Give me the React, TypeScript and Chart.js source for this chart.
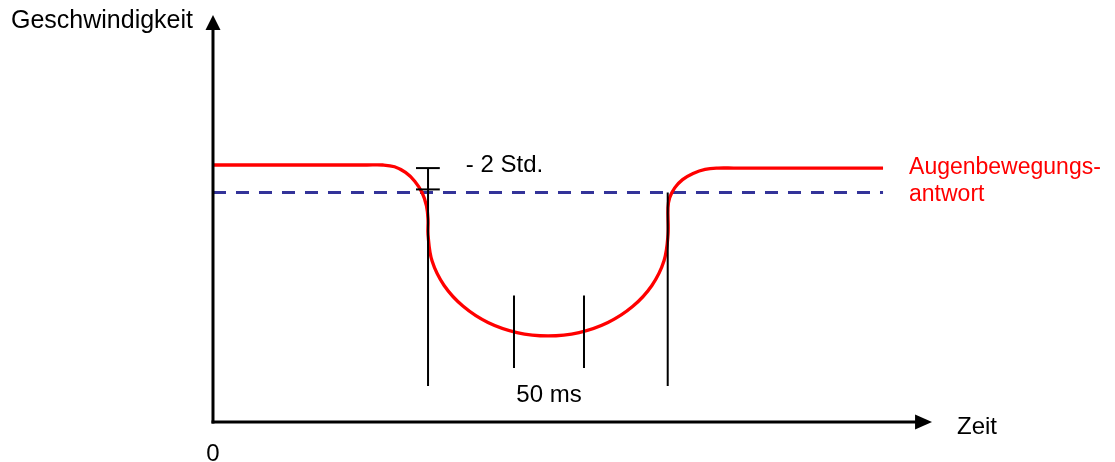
import React, { useEffect, useRef } from "react";
import { Chart, registerables } from "chart.js";

Chart.register(...registerables);

// Eye-movement response (time in ms, speed in arbitrary units)
const responseTimeMs = [
  0, 110, 121.4, 129.7, 137.5, 144.1, 149.3, 152.5, 153.6, 153.6, 156.5, 165.1, 178.7, 196.4,
  217.1, 239.3, 261.5, 282.1, 299.9, 313.5, 322.1, 325.0, 325.0, 326.2, 329.8, 335.4,
  342.9, 351.5, 360.7, 372, 478.6,
];
const responseSpeed = [
  10, 10, 10, 9.93, 9.71, 9.37, 8.93, 8.41, 7.86, 7.28, 6.26, 5.31, 4.5, 3.87,
  3.48, 3.35, 3.48, 3.87, 4.5, 5.31, 6.26, 7.28, 8.33, 8.73, 9.11, 9.43,
  9.67, 9.83, 9.88, 9.88, 9.88,
];

// Threshold (-2 Std.)
const thresholdTimeMs = [0, 478.6];
const thresholdSpeed = 8.93;

// Marker lines
const onsetMs = 153.6;
const offsetMs = 324.8;
const stdBarSpeed = [9.88, 9.05];
const stdBarTimeMs = [145, 162];
const markerBottomSpeed = 1.4;
const durationMarksMs = [215, 265];
const durationMarkSpeed = [4.92, 2.1];

// Axes
const axisEndMs = 513.6;
const axisEndSpeed = 15.84;
const timeRangeMs = [-152.14, 644.29];
const speedRange = [-1.556, 16.42];

const labels = {
  yTitle: "Geschwindigkeit",
  xTitle: "Zeit",
  origin: "0",
  std: "- 2 Std.",
  duration: "50 ms",
  series: ["Augenbewegungs-", "antwort"],
};

const FAMILY = '"Liberation Sans", Arial, sans-serif';

function seg(x1: number, y1: number, x2: number, y2: number) {
  return {
    data: [
      { x: x1, y: y1 },
      { x: x2, y: y2 },
    ],
    borderColor: "#000000",
    borderWidth: 2,
    pointRadius: 0,
    order: 0,
    tension: 0,
  };
}

const overlay = {
  id: "overlay",
  afterDatasetsDraw(chart: any) {
    const { ctx } = chart;
    const x = chart.scales.x;
    const y = chart.scales.y;
    const ox = x.getPixelForValue(0);
    const oy = y.getPixelForValue(0);
    const xt = x.getPixelForValue(axisEndMs);
    const yt = y.getPixelForValue(axisEndSpeed);
    ctx.save();
    ctx.strokeStyle = "#000";
    ctx.fillStyle = "#000";
    ctx.lineWidth = 3;
    ctx.beginPath();
    ctx.moveTo(ox, oy + 1.5);
    ctx.lineTo(ox, yt + 12);
    ctx.stroke();
    ctx.beginPath();
    ctx.moveTo(ox - 1.5, oy);
    ctx.lineTo(xt - 12, oy);
    ctx.stroke();
    // arrowheads
    ctx.beginPath();
    ctx.moveTo(ox, yt);
    ctx.lineTo(ox - 7.5, yt + 15);
    ctx.lineTo(ox + 7.5, yt + 15);
    ctx.closePath();
    ctx.fill();
    ctx.beginPath();
    ctx.moveTo(xt, oy);
    ctx.lineTo(xt - 17, oy - 7.5);
    ctx.lineTo(xt - 17, oy + 7.5);
    ctx.closePath();
    ctx.fill();

    ctx.textBaseline = "alphabetic";
    ctx.fillStyle = "#000";
    ctx.font = "25px " + FAMILY;
    ctx.textAlign = "right";
    ctx.fillText(labels.yTitle, ox - 20, yt + 13);
    ctx.font = "24px " + FAMILY;
    ctx.textAlign = "center";
    ctx.fillText(labels.origin, ox, oy + 39);
    ctx.textAlign = "left";
    ctx.fillText(labels.xTitle, xt + 25, oy + 12);
    ctx.fillText(labels.std, x.getPixelForValue(stdBarTimeMs[1]) + 26, y.getPixelForValue(stdBarSpeed[0]) + 4);
    ctx.textAlign = "center";
    ctx.fillText(
      labels.duration,
      x.getPixelForValue((durationMarksMs[0] + durationMarksMs[1]) / 2),
      y.getPixelForValue(markerBottomSpeed) + 16
    );
    ctx.textAlign = "left";
    ctx.fillStyle = "#ff0000";
    ctx.font = "23px " + FAMILY;
    const lx = x.getPixelForValue(thresholdTimeMs[1]) + 26;
    const ly = y.getPixelForValue(responseSpeed[responseSpeed.length - 1]);
    ctx.fillText(labels.series[0], lx, ly + 6);
    ctx.fillText(labels.series[1], lx, ly + 33);
    ctx.restore();
  },
};

export default function App() {
  const ref = useRef<HTMLCanvasElement>(null);
  useEffect(() => {
    if (!ref.current) return;
    const chart = new Chart(ref.current, {
      type: "line",
      data: {
        datasets: [
          {
            label: "Augenbewegungsantwort",
            data: responseTimeMs.map((t, i) => ({ x: t, y: responseSpeed[i] })),
            borderColor: "#ff0000",
            borderWidth: 3.3,
            pointRadius: 0,
            tension: 0.38,
            order: 1,
          } as any,
          {
            label: "-2 Std.",
            data: thresholdTimeMs.map((t) => ({ x: t, y: thresholdSpeed })),
            borderColor: "#333399",
            borderWidth: 3,
            borderDash: [13, 10],
            pointRadius: 0,
            order: 2,
          },
          seg(onsetMs, stdBarSpeed[0], onsetMs, markerBottomSpeed),
          seg(offsetMs, thresholdSpeed, offsetMs, markerBottomSpeed),
          seg(stdBarTimeMs[0], stdBarSpeed[0], stdBarTimeMs[1], stdBarSpeed[0]),
          seg(stdBarTimeMs[0], stdBarSpeed[1], stdBarTimeMs[1], stdBarSpeed[1]),
          seg(durationMarksMs[0], durationMarkSpeed[0], durationMarksMs[0], durationMarkSpeed[1]),
          seg(durationMarksMs[1], durationMarkSpeed[0], durationMarksMs[1], durationMarkSpeed[1]),
        ] as any,
      },
      options: {
        responsive: false,
        animation: false,
        devicePixelRatio: 1,
        layout: { padding: 0 },
        plugins: { legend: { display: false }, tooltip: { enabled: false } },
        scales: {
          x: { type: "linear", display: false, min: timeRangeMs[0], max: timeRangeMs[1] },
          y: { type: "linear", display: false, min: speedRange[0], max: speedRange[1] },
        },
      },
      plugins: [overlay],
    });
    return () => chart.destroy();
  }, []);
  return (
    <div style={{ position: "fixed", left: 0, top: 0, width: 1115, height: 462, background: "#fff" }}>
      <canvas ref={ref} width={1115} height={462} style={{ display: "block" }} />
    </div>
  );
}
